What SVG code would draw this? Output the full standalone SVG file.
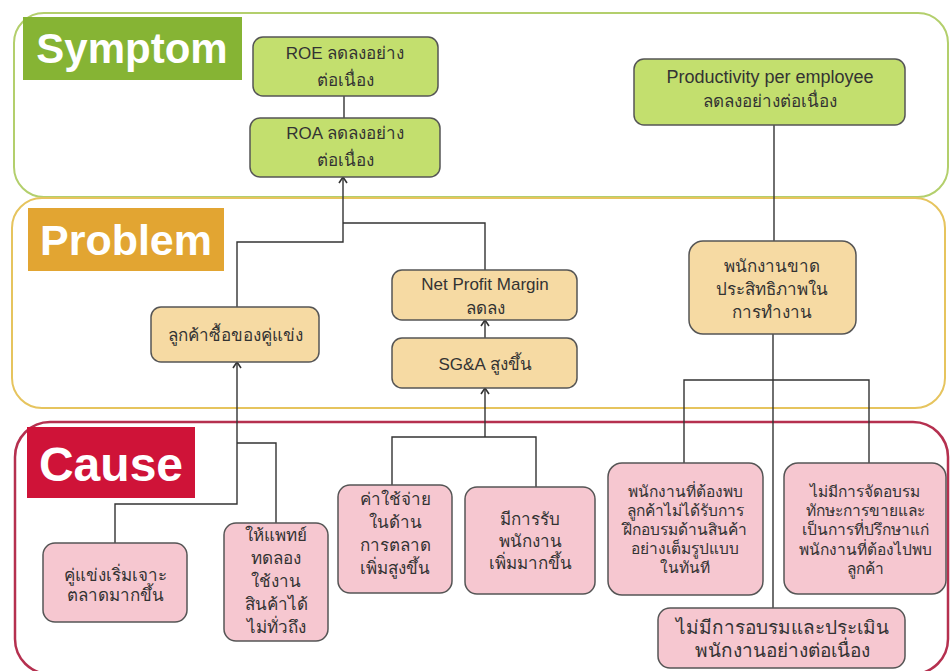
<svg xmlns="http://www.w3.org/2000/svg" width="950" height="671" viewBox="0 0 950 671">
<defs>
<style>
.t{font-family:"Liberation Sans","Noto Sans","DejaVu Sans",sans-serif;fill:#333;text-anchor:middle}
.s18{font-size:18px}.s17{font-size:17px}.s16{font-size:16px}.s15{font-size:15.5px}.s19{font-size:19px}
.lab{font-family:"Liberation Sans",Arial,sans-serif;font-weight:bold;fill:#fff}
.g{fill:#c3df6e;stroke:#555;stroke-width:1.5}
.y{fill:#f6daa3;stroke:#555;stroke-width:1.5}
.p{fill:#f6c7d0;stroke:#555;stroke-width:1.5}
.c{fill:none;stroke:#333;stroke-width:1.4}
</style>
<marker id="ar" markerWidth="10" markerHeight="10" refX="9" refY="5" orient="auto" markerUnits="userSpaceOnUse" viewBox="0 0 10 10">
<path d="M3,1 L9,5 L3,9" fill="none" stroke="#333" stroke-width="1.6"/>
</marker>
</defs>
<rect width="950" height="671" fill="#fff"/>
<g id="panels">
<rect x="14" y="13" width="934" height="184" rx="30" fill="none" stroke="#b3cf6c" stroke-width="2"/>
<rect x="12" y="198" width="933" height="210" rx="30" fill="none" stroke="#e6c45e" stroke-width="2"/>
<rect x="15" y="422" width="933" height="252" rx="35" fill="none" stroke="#b5304f" stroke-width="2.5"/>
</g>
<g id="labels">
<rect x="23" y="17" width="219" height="63" fill="#86b434"/>
<text class="lab" x="132" y="63" font-size="42" text-anchor="middle">Symptom</text>
<rect x="28" y="208" width="196" height="63" fill="#e2a532"/>
<text class="lab" x="126" y="255" font-size="43" text-anchor="middle">Problem</text>
<rect x="27" y="427" width="168" height="71" fill="#cf1338"/>
<text class="lab" x="111" y="481" font-size="48" text-anchor="middle">Cause</text>
</g>
<g id="connectors">
<path class="c" d="M344,96 V118"/>
<path class="c" d="M237,307 V242 H343 V177" marker-end="url(#ar)"/>
<path class="c" d="M485,270 V223 H343"/>
<path class="c" d="M485,338 V320" marker-end="url(#ar)"/>
<path class="c" d="M485,437 V388" stroke-width="2.2" marker-end="url(#ar)"/>
<path class="c" d="M392,485 V437 H536 V487"/>
<path class="c" d="M115,543 V504 H237 V362" marker-end="url(#ar)"/>
<path class="c" d="M237,443 H276 V523"/>
<path class="c" d="M774,125 V241"/>
<path class="c" d="M773,334 V608"/>
<path class="c" d="M684,463 V380 H869 V463"/>
</g>
<g id="n-roe"><rect class="g" x="253" y="37" width="185" height="59" rx="10"/>
<text class="t s17" x="345" y="59">ROE ลดลงอย่าง</text><text class="t s17" x="345" y="86">ต่อเนื่อง</text></g>
<g id="n-roa"><rect class="g" x="250" y="118" width="190" height="59" rx="10"/>
<text class="t s17" x="345" y="139">ROA ลดลงอย่าง</text><text class="t s17" x="345" y="166">ต่อเนื่อง</text></g>
<g id="n-prod"><rect class="g" x="634" y="59" width="271" height="66" rx="10"/>
<text class="t s18" x="770" y="83">Productivity per employee</text><text class="t s17" x="770" y="107">ลดลงอย่างต่อเนื่อง</text></g>
<g id="n-cust"><rect class="y" x="151" y="307" width="168" height="55" rx="10"/>
<text class="t s17" x="235" y="341">ลูกค้าซื้อของคู่แข่ง</text></g>
<g id="n-npm"><rect class="y" x="392" y="270" width="185" height="50" rx="10"/>
<text class="t s17" x="485" y="290">Net Profit Margin</text><text class="t s17" x="485" y="314">ลดลง</text></g>
<g id="n-sga"><rect class="y" x="392" y="338" width="185" height="50" rx="10"/>
<text class="t s17" x="485" y="370">SG&amp;A สูงขึ้น</text></g>
<g id="n-emp"><rect class="y" x="689" y="241" width="167" height="93" rx="14"/>
<text class="t s17" x="772" y="272">พนักงานขาด</text><text class="t s17" x="772" y="295">ประสิทธิภาพใน</text><text class="t s17" x="772" y="318">การทำงาน</text></g>
<g id="n-c1"><rect class="p" x="43" y="543" width="144" height="79" rx="12"/>
<text class="t s17" x="115" y="581">คู่แข่งเริ่มเจาะ</text><text class="t s17" x="115" y="601">ตลาดมากขึ้น</text></g>
<g id="n-c2"><rect class="p" x="224" y="523" width="104" height="118" rx="12"/>
<text class="t s17" x="276" y="541">ให้แพทย์</text><text class="t s17" x="276" y="564">ทดลอง</text><text class="t s17" x="276" y="587">ใช้งาน</text><text class="t s17" x="276" y="610">สินค้าได้</text><text class="t s17" x="276" y="633">ไม่ทั่วถึง</text></g>
<g id="n-c3"><rect class="p" x="338" y="485" width="114" height="108" rx="12"/>
<text class="t s17" x="395" y="505">ค่าใช้จ่าย</text><text class="t s17" x="395" y="528">ในด้าน</text><text class="t s17" x="395" y="551">การตลาด</text><text class="t s17" x="395" y="574">เพิ่มสูงขึ้น</text></g>
<g id="n-c4"><rect class="p" x="465" y="487" width="130" height="107" rx="12"/>
<text class="t s17" x="530" y="525">มีการรับ</text><text class="t s17" x="530" y="547">พนักงาน</text><text class="t s17" x="530" y="569">เพิ่มมากขึ้น</text></g>
<g id="n-c5"><rect class="p" x="608" y="463" width="155" height="132" rx="14"/>
<text class="t s15" x="685" y="497">พนักงานที่ต้องพบ</text><text class="t s15" x="685" y="516">ลูกค้าไม่ได้รับการ</text><text class="t s15" x="685" y="535">ฝึกอบรมด้านสินค้า</text><text class="t s15" x="685" y="554">อย่างเต็มรูปแบบ</text><text class="t s15" x="685" y="573">ในทันที</text></g>
<g id="n-c6"><rect class="p" x="784" y="463" width="162" height="131" rx="14"/>
<text class="t s15" x="865" y="497">ไม่มีการจัดอบรม</text><text class="t s15" x="865" y="516">ทักษะการขายและ</text><text class="t s15" x="865" y="535">เป็นการที่ปรึกษาแก่</text><text class="t s15" x="865" y="555">พนักงานที่ต้องไปพบ</text><text class="t s15" x="865" y="574">ลูกค้า</text></g>
<g id="n-c7"><rect class="p" x="658" y="608" width="247" height="60" rx="12"/>
<text class="t s19" x="782" y="634">ไม่มีการอบรมและประเมิน</text><text class="t s19" x="782" y="657">พนักงานอย่างต่อเนื่อง</text></g>
</svg>
